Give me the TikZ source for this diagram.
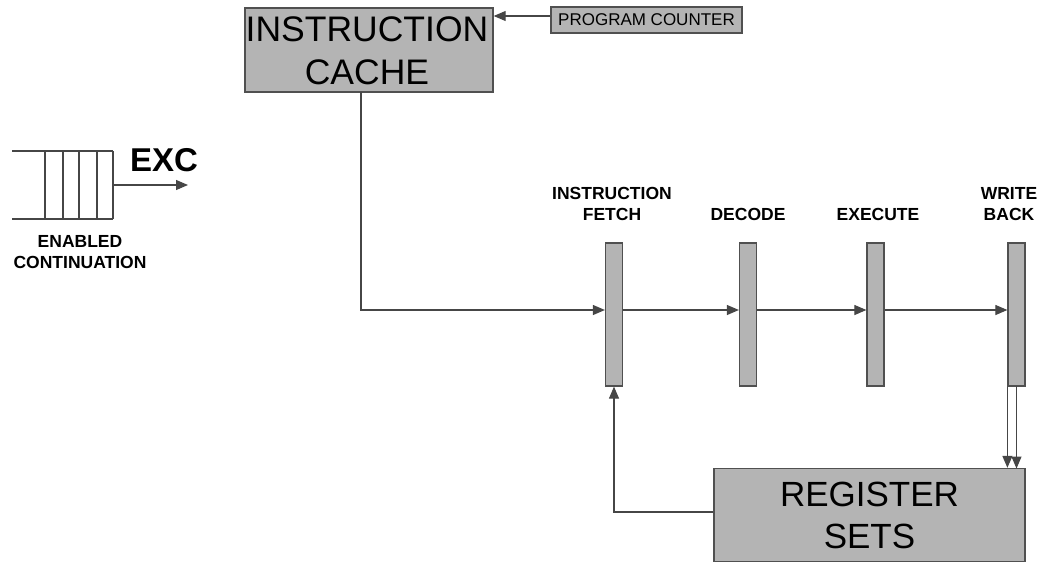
\documentclass[tikz,border=0pt]{standalone}
\usepackage{fontspec}
\setmainfont{Liberation Sans}
\usetikzlibrary{arrows.meta}
\definecolor{boxfill}{RGB}{180,180,180}
\definecolor{edgec}{RGB}{80,80,80}
\definecolor{linec}{RGB}{70,70,70}
\tikzset{
  bigbox/.style={draw=edgec, line width=1.4pt, fill=boxfill, inner sep=0pt, align=center},
  bar/.style={draw=edgec, line width=1.2pt, fill=boxfill, inner sep=0pt, minimum width=17pt, minimum height=143pt},
  conn/.style={draw=linec, line width=1.1pt, -{Triangle[length=12pt,width=10pt]}},
  plain/.style={draw=linec, line width=1.1pt},
  stagelbl/.style={font=\fontsize{17.5}{21}\selectfont\bfseries, align=center, inner sep=0pt},
  boxtxt/.style={align=center, inner sep=0pt, anchor=base},
}
\begin{document}
\begin{tikzpicture}[x=1pt,y=-1pt]
\useasboundingbox (0,0) rectangle (1044,562);
% instruction cache
\node[bigbox, minimum width=248pt, minimum height=84pt] (ic) at (369,50) {};
\node[boxtxt, font=\fontsize{35.5}{43}\selectfont] (ictxt) at (367,84.5) {INSTRUCTION\\CACHE};
% program counter
\node[bigbox, line width=1.2pt, minimum width=191pt, minimum height=26pt, font=\fontsize{17}{20}\selectfont] (pc) at (646.5,20) {PROGRAM COUNTER};
\draw[conn] (pc.west |- 0,16) -- (ic.east |- 0,16);
% pipeline bars
\node[bar] (if) at (614,314.5) {};
\node[bar] (dec) at (748,314.5) {};
\node[bar] (exe) at (875.5,314.5) {};
\node[bar] (wb) at (1016.5,314.5) {};
% stage labels
\node[stagelbl, anchor=base] (iflbl) at (612,220) {INSTRUCTION\\FETCH};
\node[stagelbl, anchor=base] (declbl) at (748,220) {DECODE};
\node[stagelbl, anchor=base] (exelbl) at (878,220) {EXECUTE};
\node[stagelbl, anchor=base] (wblbl) at (1009,220) {WRITE\\BACK};
% register sets
\node[bigbox, minimum width=311pt, minimum height=93pt] (rs) at (869.5,515) {};
\node[boxtxt, font=\fontsize{35}{42}\selectfont] (rstxt) at (869.5,548) {REGISTER\\SETS};
% connectors
\coordinate (icbot) at (361,92);
\draw[conn] (icbot) -- (361,310) -- (if.west |- 0,310);
\draw[conn] (if.east |- 0,310) -- (dec.west |- 0,310);
\draw[conn] (dec.east |- 0,310) -- (exe.west |- 0,310);
\draw[conn] (exe.east |- 0,310) -- (wb.west |- 0,310);
\draw[conn] (rs.west |- 0,512) -- (614,512) -- (if.south);
\draw[conn] (wb.south west) -- (rs.north -| wb.south west);
\draw[conn] (1016.5,386) -- (1016.5,468.5);
% enabled continuation queue
\draw[plain] (12,151) -- (113,151);
\draw[plain] (12,219) -- (113,219);
\foreach \xx in {45,63,79,97,113} \draw[plain] (\xx,151) -- (\xx,219);
\coordinate (qout) at (113,185);
\coordinate (qend) at (188,185);
\draw[conn] (qout) -- (qend);
\node[font=\fontsize{33}{36}\selectfont\bfseries, anchor=base west, inner sep=0pt] (exc) at (130,171) {EXC};
\node[stagelbl, anchor=base] (eclbl) at (80,268) {ENABLED\\CONTINUATION};
\end{tikzpicture}
\end{document}
